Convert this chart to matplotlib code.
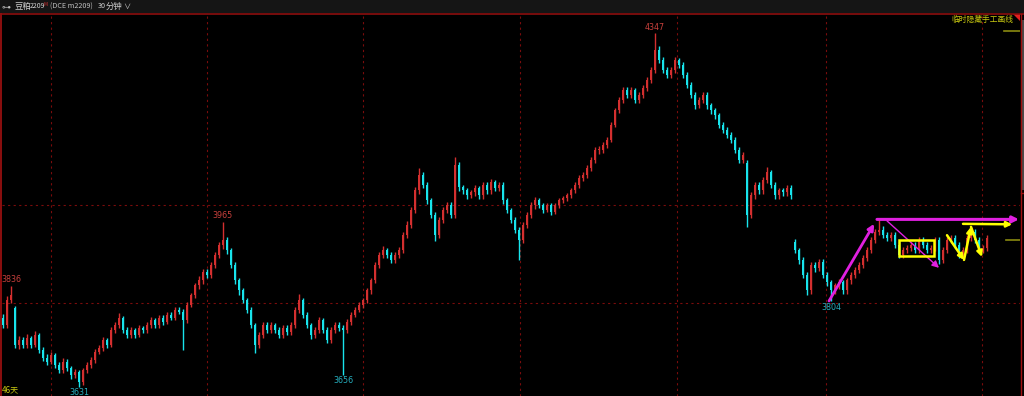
import matplotlib
matplotlib.use('Agg')
import matplotlib.pyplot as plt
from matplotlib.patches import Rectangle
from matplotlib.lines import Line2D

plt.rcParams['font.family'] = ['Noto Sans CJK SC', 'DejaVu Sans']

# 豆粕2209 30分钟 K线 (开, 高, 低, 收)
opens = [3770,3756,3807,3790,3716,3726,3716,3730,3716,3736,
         3706,3690,3682,3696,3676,3665,3682,3669,3655,3661,
         3641,3665,3676,3686,3702,3710,3726,3716,3746,3756,
         3771,3746,3736,3746,3736,3750,3746,3756,3766,3756,
         3771,3762,3777,3771,3787,3783,3766,3797,3817,3837,
         3847,3864,3858,3878,3898,3918,3928,3908,3878,3847,
         3827,3807,3787,3756,3716,3736,3756,3746,3756,3746,
         3736,3750,3742,3756,3787,3807,3777,3756,3736,3746,
         3766,3746,3726,3746,3756,3750,3746,3762,3777,3787,
         3797,3807,3827,3847,3878,3898,3908,3898,3888,3898,
         3908,3938,3959,3989,4029,4060,4040,4009,3979,3938,
         3969,3989,3999,3979,4080,4035,4029,4019,4025,4033,
         4019,4040,4029,4046,4033,4040,4009,3989,3969,3949,
         3928,3959,3979,3999,4009,3999,3989,3999,3985,3999,
         4009,4013,4019,4029,4040,4054,4060,4074,4090,4110,
         4110,4120,4131,4161,4191,4211,4232,4222,4232,4211,
         4222,4236,4252,4272,4313,4292,4272,4262,4272,4292,
         4282,4262,4242,4222,4201,4211,4222,4201,4191,4181,
         4161,4151,4141,4131,4110,4090,4085,3979,4019,4040,
         4029,4050,4066,4040,4019,4029,4025,4033,3925,3908,
         3888,3858,3827,3878,3872,3884,3858,3843,3827,3837,
         3843,3827,3847,3858,3868,3878,3892,3908,3928,3945,
         3949,3938,3932,3938,3918,3898,3908,3912,3918,3908,
         3928,3918,3908,3912,3928,3888,3908,3928,3932,3918,
         3898,3908,3932,3945,3928,3908,3912]
highs = [3778,3815,3836,3795,3734,3732,3738,3735,3744,3740,
         3712,3698,3702,3700,3682,3690,3688,3674,3668,3666,
         3670,3682,3692,3708,3716,3732,3730,3752,3762,3780,
         3775,3752,3752,3750,3756,3754,3762,3772,3770,3776,
         3776,3782,3782,3792,3792,3788,3802,3822,3842,3855,
         3870,3870,3884,3904,3924,3965,3934,3912,3884,3852,
         3832,3812,3792,3760,3742,3762,3762,3762,3760,3752,
         3756,3756,3762,3792,3820,3812,3782,3760,3752,3772,
         3770,3752,3752,3762,3762,3756,3768,3782,3792,3802,
         3812,3832,3852,3884,3904,3916,3912,3904,3904,3914,
         3944,3966,3995,4036,4074,4066,4046,4014,3984,3975,
         3995,4006,4005,4096,4086,4040,4034,4030,4040,4038,
         4046,4046,4052,4050,4046,4046,4014,3994,3975,3955,
         3965,3985,4005,4015,4014,4004,4004,4004,4004,4014,
         4018,4024,4034,4046,4060,4066,4080,4096,4116,4118,
         4126,4136,4166,4196,4218,4238,4238,4238,4236,4228,
         4242,4258,4278,4347,4320,4298,4278,4278,4298,4296,
         4288,4268,4248,4228,4218,4228,4228,4206,4196,4186,
         4166,4156,4146,4136,4116,4106,4090,4025,4046,4046,
         4056,4075,4070,4046,4034,4034,4040,4040,3930,3912,
         3894,3864,3884,3884,3890,3890,3864,3848,3842,3850,
         3848,3852,3864,3874,3884,3898,3914,3934,3950,3968,
         3956,3944,3944,3944,3924,3914,3918,3924,3924,3934,
         3934,3924,3918,3934,3934,3914,3934,3938,3938,3924,
         3914,3938,3952,3950,3934,3918,3938]
lows = [3750,3750,3800,3710,3708,3710,3710,3710,3712,3700,
        3684,3675,3678,3670,3660,3660,3664,3648,3650,3631,
        3636,3660,3670,3680,3698,3704,3710,3712,3740,3750,
        3740,3730,3730,3730,3732,3740,3740,3750,3750,3750,
        3756,3758,3766,3766,3778,3706,3760,3792,3812,3830,
        3840,3852,3852,3872,3892,3910,3900,3872,3840,3818,
        3800,3780,3750,3700,3710,3730,3740,3740,3740,3730,
        3730,3736,3736,3750,3780,3770,3750,3728,3730,3740,
        3740,3720,3720,3740,3744,3656,3740,3756,3772,3782,
        3790,3800,3820,3842,3872,3892,3892,3882,3882,3892,
        3902,3932,3952,3982,4022,4034,4002,3972,3926,3932,
        3962,3982,3972,3972,4028,4022,4012,4014,4018,4012,
        4012,4022,4022,4028,4028,4002,3982,3962,3942,3888,
        3922,3952,3972,3992,3994,3982,3984,3978,3980,3994,
        4004,4008,4014,4024,4034,4048,4054,4068,4084,4102,
        4104,4114,4126,4156,4186,4206,4216,4216,4206,4206,
        4216,4230,4246,4266,4286,4266,4256,4256,4266,4276,
        4256,4236,4216,4194,4196,4206,4194,4184,4174,4154,
        4144,4134,4124,4104,4084,4084,3955,3972,4012,4022,
        4022,4044,4034,4012,4012,4018,4018,4012,3902,3880,
        3852,3818,3820,3864,3866,3852,3836,3804,3820,3830,
        3820,3820,3840,3852,3862,3872,3886,3902,3922,3938,
        3932,3926,3926,3912,3892,3892,3902,3906,3902,3902,
        3912,3902,3902,3906,3880,3882,3902,3922,3912,3892,
        3892,3902,3926,3922,3902,3902,3906]
closes = [3756,3807,3817,3716,3726,3716,3730,3716,3736,3706,
          3690,3682,3696,3676,3665,3682,3669,3655,3661,3641,
          3665,3676,3686,3702,3710,3726,3716,3746,3756,3771,
          3746,3736,3746,3736,3750,3746,3756,3766,3756,3771,
          3762,3777,3771,3787,3783,3766,3797,3817,3837,3847,
          3864,3858,3878,3898,3918,3928,3908,3878,3847,3827,
          3807,3787,3756,3716,3736,3756,3746,3756,3746,3736,
          3750,3742,3756,3787,3807,3777,3756,3736,3746,3766,
          3746,3726,3746,3756,3750,3746,3762,3777,3787,3797,
          3807,3827,3847,3878,3898,3908,3898,3888,3898,3908,
          3938,3959,3989,4029,4060,4040,4009,3979,3938,3969,
          3989,3999,3979,4080,4035,4029,4019,4025,4033,4019,
          4040,4029,4046,4033,4040,4009,3989,3969,3949,3928,
          3959,3979,3999,4009,3999,3989,3999,3985,3999,4009,
          4013,4019,4029,4040,4054,4060,4074,4090,4110,4110,
          4120,4131,4161,4191,4211,4232,4222,4232,4211,4222,
          4236,4252,4272,4313,4292,4272,4262,4272,4292,4282,
          4262,4242,4222,4201,4211,4222,4201,4191,4181,4161,
          4151,4141,4131,4110,4090,4100,3979,4019,4040,4029,
          4050,4066,4040,4019,4029,4025,4033,4019,3908,3888,
          3858,3827,3878,3872,3884,3858,3843,3827,3837,3843,
          3827,3847,3858,3868,3878,3892,3908,3928,3945,3949,
          3938,3932,3938,3918,3898,3908,3912,3918,3908,3928,
          3918,3908,3912,3928,3888,3908,3928,3932,3918,3898,
          3908,3932,3945,3928,3908,3912,3932]

# 周分隔线 (K线序号) 和 价格网格
week_lines = [12, 51, 90, 129.25, 168.5, 205.75, 244.75]
price_grid = [3800, 4000]

UP = '#d42f2f'
DOWN = '#18e4ec'

fig = plt.figure(figsize=(10.24, 3.96), dpi=100, facecolor='black')
ax = fig.add_axes([2/1024, 0, 1018/1024, 382/396], facecolor='black')
ax.set_xlim(-0.25, 254.25)
ax.set_ylim(3612.8, 4385.4)
ax.axis('off')

for x in week_lines:
    ax.axvline(x, color='#7a0c0c', lw=0.8, ls=(0, (2, 3)), zorder=1)
for p in price_grid:
    ax.axhline(p, color='#7a0c0c', lw=0.8, ls=(0, (2, 3)), zorder=1)

# K线
for i in range(len(closes)):
    o, h, l, c = opens[i], highs[i], lows[i], closes[i]
    col = UP if c >= o else DOWN
    ax.vlines(i, l, h, color=col, lw=1.0, zorder=3)
    body = abs(c - o) if abs(c - o) > 1 else 1.5
    ax.bar(i, body, bottom=min(o, c), width=0.72, color=col, lw=0, zorder=4)

# 高低点标注
ihi = highs.index(max(highs))
ilo = lows.index(min(lows))
marks = [(2, highs[2], 'up'), (55, highs[55], 'up'), (ihi, highs[ihi], 'up'),
         (ilo, lows[ilo], 'down'), (85, lows[85], 'down'), (207, lows[207], 'down')]
for i, p, kind in marks:
    if kind == 'up':
        ax.annotate(str(p), (i, p), xytext=(0, 1), textcoords='offset points',
                    ha='center', va='bottom', color='#c8403c', fontsize=5.8,
                    family='DejaVu Sans')
    else:
        ax.annotate(str(p), (i, p), xytext=(0, -1), textcoords='offset points',
                    ha='center', va='top', color='#26aebe', fontsize=5.8,
                    family='DejaVu Sans')

# 手工画线
MAG = '#e020e0'
YEL = '#ffff00'
def arrow(p0, p1, color, lw=2.0, ms=9):
    ax.annotate('', xy=p1, xytext=p0,
                arrowprops=dict(arrowstyle='-|>', color=color, lw=lw,
                                mutation_scale=ms, shrinkA=0, shrinkB=0),
                zorder=6)

arrow((206.5, 3805), (217.8, 3961), MAG, lw=2.0)
arrow((218.5, 3970), (254.0, 3970), MAG, lw=2.2)
arrow((221.0, 3967), (234.0, 3872), MAG, lw=1.0, ms=10)
ax.add_patch(Rectangle((224, 3896), 8.75, 32, fill=False, ec=YEL, lw=1.8, zorder=6))
arrow((236, 3938), (240.25, 3888), YEL, lw=1.8, ms=8)
arrow((240.25, 3888), (242, 3955), YEL, lw=1.8, ms=8)
arrow((242, 3955), (244.75, 3894), YEL, lw=1.8, ms=8)
arrow((240, 3961), (252.3, 3960), YEL, lw=1.8, ms=8)

# 右侧价格标记
ax.plot([0.984, 1.0], [0.955, 0.955], color='#8a8a10', lw=1.2, transform=ax.transAxes)
ax.plot([0.986, 1.0], [0.409, 0.409], color='#8a8a10', lw=1.2, transform=ax.transAxes)

# 顶部标题栏
fig.add_artist(Rectangle((0, 1 - 13/396), 1, 13/396, transform=fig.transFigure,
                         color='#151515', lw=0))
fig.add_artist(Line2D([0, 1], [1 - 13.5/396, 1 - 13.5/396], transform=fig.transFigure,
                      color='#8c0f0f', lw=1.2))
fig.add_artist(Line2D([1.2/1024, 1.2/1024], [0, 1 - 13.5/396], transform=fig.transFigure,
                      color='#8c0f0f', lw=1.4))
fig.add_artist(Line2D([1020.5/1024, 1020.5/1024], [0, 1 - 13.5/396], transform=fig.transFigure,
                      color='#a01010', lw=1.0))
# 右侧工具条
fig.add_artist(Rectangle((1021.5/1024, 1 - 190/396), 2.5/1024, 170/396,
                         transform=fig.transFigure, color='#4a4a4a', lw=0))
fig.add_artist(Line2D([1021/1024, 1], [1 - 193/396, 1 - 193/396], transform=fig.transFigure,
                      color='#a01010', lw=1.0))

hy = 1 - 6.5/396
hdr = [(2, '⊶', 6.5, '#c0c0c0'), (15, '豆粕', 6.0, '#d0d0d0'),
       (30, '2209', 5.0, '#d0d0d0'), (50, '(DCE m2209)', 5.2, '#c0c0c0'),
       (98, '30', 5.2, '#d0d0d0'), (106, '分钟', 6.0, '#d0d0d0'),
       (123, '∨', 5.2, '#d0d0d0')]
for x, s, fs, col in hdr:
    fig.text(x/1024, hy, s, color=col, fontsize=fs, va='center',
             family=['Noto Sans CJK SC', 'DejaVu Sans'])
fig.text(44/1024, 1 - 4.5/396, 'M', color='#d03030', fontsize=3.5, va='center')

fig.text(1013/1024, 1 - 19.5/396, '临时隐藏手工画线', color='#c8c810', fontsize=5.6,
         ha='right', va='center')
fig.add_artist(plt.Polygon([[1013/1024, 1 - 14/396], [1020/1024, 1 - 14/396],
                            [1020/1024, 1 - 21/396]], closed=True,
                           transform=fig.transFigure, color='#e02020', lw=0))
fig.text(2/1024, 1 - 390/396, '46天', color='#c8c810', fontsize=5.8, va='center')

fig.savefig('out.png', dpi=100, facecolor='black')
